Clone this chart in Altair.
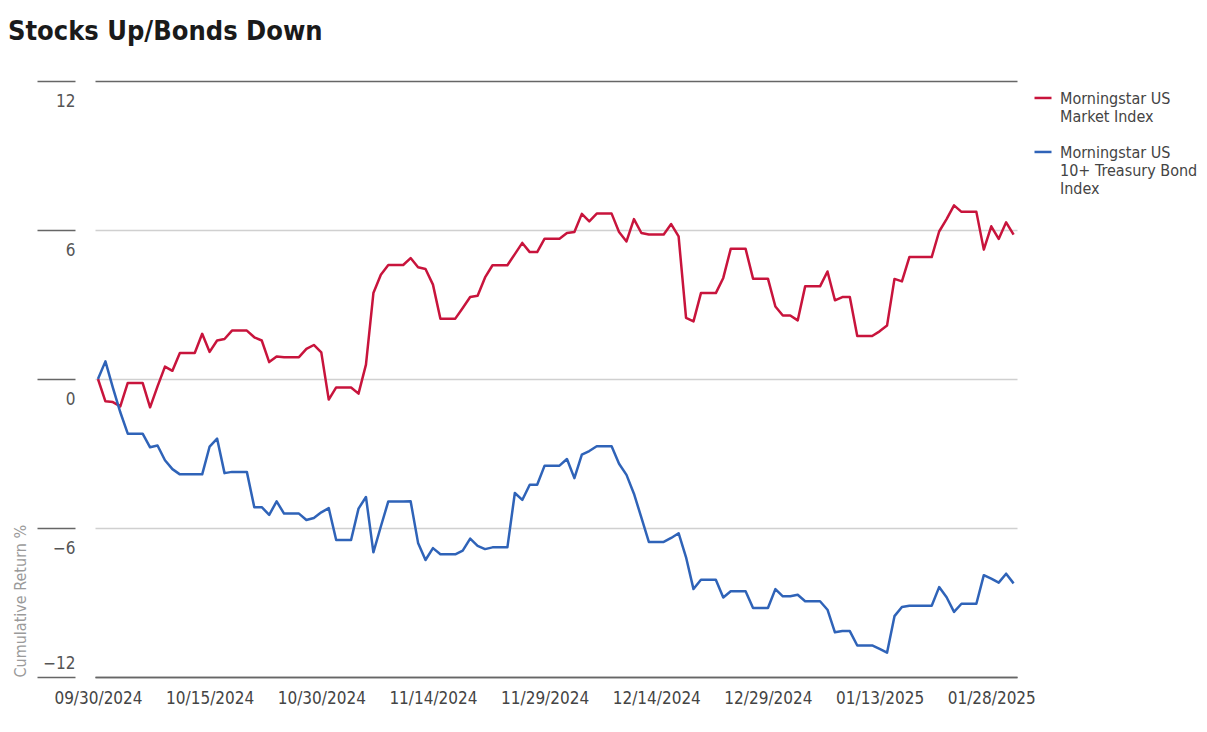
import altair as alt
import pandas as pd

S1 = "Morningstar US Market Index"
S2 = "Morningstar US 10+ Treasury Bond Index"

# daily calendar dates 09/30/2024 .. 01/31/2025 (weekends/holidays carry the prior value)
dates = pd.date_range("2024-09-30", "2025-01-31", freq="D").strftime("%Y-%m-%dT00:00:00").tolist()

stocks = [
    0.00, -0.90, -0.93, -1.10, -0.16, -0.16, -0.16,
    -1.14, -0.30, 0.50, 0.33, 1.05, 1.05, 1.05,
    1.82, 1.09, 1.55, 1.61, 1.95, 1.95, 1.95,
    1.68, 1.55, 0.68, 0.91, 0.88, 0.88, 0.88,
    1.21, 1.37, 1.07, -0.83, -0.34, -0.34, -0.34,
    -0.59, 0.58, 3.46, 4.20, 4.59, 4.59, 4.59,
    4.87, 4.50, 4.43, 3.80, 2.43, 2.43, 2.43,
    2.86, 3.30, 3.35, 4.09, 4.58, 4.58, 4.58,
    5.03, 5.48, 5.11, 5.11, 5.65, 5.65, 5.65,
    5.88, 5.92, 6.65, 6.35, 6.66, 6.66, 6.66,
    5.92, 5.54, 6.44, 5.88, 5.82, 5.82, 5.82,
    6.24, 5.74, 2.46, 2.32, 3.46, 3.46, 3.46,
    4.07, 5.24, 5.24, 5.24, 4.04, 4.04, 4.04,
    2.92, 2.56, 2.56, 2.36, 3.73, 3.73, 3.73,
    4.33, 3.17, 3.30, 3.30, 1.73, 1.73, 1.73,
    1.92, 2.15, 4.03, 3.93, 4.91, 4.91, 4.91,
    4.91, 5.94, 6.44, 6.99, 6.73, 6.73, 6.73,
    5.21, 6.15, 5.64, 6.31, 5.81,
]

bonds = [
    0.00, 0.71, -0.35, -1.34, -2.20, -2.20, -2.20,
    -2.75, -2.68, -3.27, -3.63, -3.84, -3.84, -3.84,
    -3.84, -2.72, -2.40, -3.79, -3.74, -3.74, -3.74,
    -5.16, -5.16, -5.47, -4.93, -5.42, -5.42, -5.42,
    -5.68, -5.60, -5.37, -5.20, -6.48, -6.48, -6.48,
    -5.22, -4.75, -6.98, -5.94, -4.93, -4.93, -4.93,
    -4.92, -6.60, -7.29, -6.81, -7.06, -7.06, -7.06,
    -6.91, -6.43, -6.72, -6.85, -6.78, -6.78, -6.78,
    -4.59, -4.87, -4.26, -4.26, -3.49, -3.49, -3.49,
    -3.22, -3.99, -3.05, -2.90, -2.71, -2.71, -2.71,
    -3.41, -3.86, -4.62, -5.58, -6.56, -6.56, -6.56,
    -6.40, -6.21, -7.18, -8.46, -8.08, -8.08, -8.08,
    -8.80, -8.55, -8.55, -8.55, -9.22, -9.22, -9.22,
    -8.46, -8.75, -8.75, -8.69, -8.95, -8.95, -8.95,
    -9.29, -10.20, -10.15, -10.15, -10.73, -10.73, -10.73,
    -10.87, -11.02, -9.55, -9.18, -9.13, -9.13, -9.13,
    -9.13, -8.38, -8.79, -9.38, -9.05, -9.05, -9.05,
    -7.90, -8.04, -8.20, -7.84, -8.23,
]

y_ticks = [-12, -6, 0, 6, 12]
x_ticks = [
    alt.DateTime(year=2024, month=9, date=30),
    alt.DateTime(year=2024, month=10, date=15),
    alt.DateTime(year=2024, month=10, date=30),
    alt.DateTime(year=2024, month=11, date=14),
    alt.DateTime(year=2024, month=11, date=29),
    alt.DateTime(year=2024, month=12, date=14),
    alt.DateTime(year=2024, month=12, date=29),
    alt.DateTime(year=2025, month=1, date=13),
    alt.DateTime(year=2025, month=1, date=28),
]

df = pd.DataFrame({
    "date": dates + dates,
    "value": stocks + bonds,
    "series": [S1] * len(dates) + [S2] * len(dates),
})

FONT = "DejaVu Sans Condensed, DejaVu Sans, sans-serif"

chart = alt.Chart(df).mark_line(strokeWidth=2.5, strokeJoin="round").encode(
    x=alt.X(
        "date:T",
        scale=alt.Scale(domain=[
            alt.DateTime(year=2024, month=9, date=29, hours=14, minutes=24),
            alt.DateTime(year=2025, month=1, date=31, hours=11),
        ]),
        axis=alt.Axis(
            values=x_ticks, format="%m/%d/%Y", title=None, ticks=False,
            domain=True, domainColor="#666666", domainWidth=1.5, grid=False,
            labelPadding=13, labelFont=FONT, labelFontSize=17, labelColor="#444444",
            labelBaseline="top",
        ),
    ),
    y=alt.Y(
        "value:Q",
        scale=alt.Scale(domain=[-12, 12], nice=False),
        axis=alt.Axis(
            values=y_ticks, title="Cumulative Return %", domain=False,
            offset=20, tickSize=38, tickColor="#666666", tickWidth=1.5,
            labelPadding=-38, labelAlign="right",
            labelBaseline={"condition": {"test": "datum.value === -12", "value": "bottom"}, "value": "top"},
            labelOffset={"condition": {"test": "datum.value === -12", "value": -5}, "value": 12},
            labelFont=FONT, labelFontSize=17, labelColor="#555555",
            grid=True,
            gridColor={"condition": {"test": "datum.value === 12 || datum.value === -12", "value": "#666666"}, "value": "#d0d0d0"},
            gridWidth=1.5,
            titleFont=FONT, titleFontSize=16, titleFontWeight="normal", titleColor="#9a9a9a",
            titleAngle=-90, titleX=-55, titleY=596, titleAlign="left", titleBaseline="middle",
        ),
    ),
    color=alt.Color(
        "series:N",
        scale=alt.Scale(domain=[S1, S2], range=["#C8143C", "#2F63B8"]),
        legend=alt.Legend(
            title=None, orient="right", offset=16, padding=0,
            symbolType="M-1,0.82L1,0.82", symbolStrokeWidth=2.5, symbolSize=289,
            symbolFillColor="transparent",
            labelFont=FONT, labelFontSize=16, labelColor="#444444", labelOffset=7,
            labelBaseline="top", labelLimit=300, rowPadding=10,
            labelExpr="datum.label == '" + S1 + "' ? ['Morningstar US', 'Market Index'] : ['Morningstar US', '10+ Treasury Bond', 'Index']",
        ),
    ),
).properties(
    width=922,
    height=596,
    padding={"left": 87, "top": 73, "right": 182, "bottom": 40},
    autosize="none",
    title=alt.TitleParams(
        "Stocks Up/Bonds Down", anchor="start", frame="group", dx=-87, offset=34,
        font=FONT, fontSize=27, fontWeight="bold", color="#1a1a1a",
    ),
).configure_view(stroke=None)

chart.save("out.html", embed_options={"renderer": "svg", "actions": False})
